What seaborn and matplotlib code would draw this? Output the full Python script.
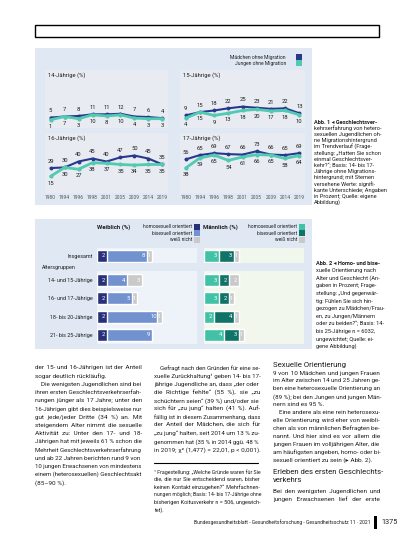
"""Trend lines (Geschlechtsverkehrerfahrung) and orientation bars, laid out as a journal page."""

import matplotlib

matplotlib.use("Agg")
import matplotlib.pyplot as plt
import numpy as np
import seaborn as sns
from matplotlib.patches import Rectangle

W, H = 413, 550

YEARS = ["1980", "1994", "1996", "1998", "2001", "2005", "2009", "2014", "2019"]
GIRLS_14 = [5, 7, 8, 11, 11, 12, 7, 6, 4]
BOYS_14 = [1, 7, 3, 10, 8, 10, 4, 3, 3]
GIRLS_15 = [9, 15, 18, 22, 25, 23, 21, 22, 13]
BOYS_15 = [4, 15, 9, 13, 18, 20, 17, 18, 10]
GIRLS_16 = [29, 30, 40, 45, 40, 47, 50, 45, 35]
BOYS_16 = [15, 30, 27, 38, 37, 35, 34, 35, 35]
GIRLS_17 = [56, 65, 69, 67, 66, 73, 66, 65, 69]
BOYS_17 = [38, 59, 65, 54, 61, 66, 65, 58, 64]
LINE_LEGEND = ["Mädchen ohne Migration", "Jungen ohne Migration"]

TOTAL_LABEL = ["Insgesamt"]
AGE_LABELS = ["14- und 15-Jährige", "16- und 17-Jährige", "18- bis 20-Jährige", "21- bis 25-Jährige"]
SEG_NAMES = ["homosexuell orientiert", "bisexuell orientiert", "weiß nicht"]
F_TOTAL = [[2], [8], [1]]
F_AGE = [[2, 2, 2, 2], [4, 5, 10, 9], [3, 1, 1, 0]]
M_TOTAL = [[3], [3], [1]]
M_AGE = [[3, 3, 2, 4], [2, 2, 4, 3], [2, 1, 1, 1]]

NAVY = "#27398c"
TEAL = "#52c9b1"
F_COLORS = ["#28307a", "#7191cf", "#c9c9c9"]
M_COLORS = ["#41c1a6", "#0f7368", "#c9c9c9"]
PANEL = "#dfe8f3"
INNER = "#e8ecf2"
TXT = "#1e1e1e"

CAPTION_1 = [
    "kehrserfahrung von hetero-",
    "sexuellen Jugendlichen oh-",
    "ne Migrationshintergrund",
    "im Trendverlauf (Frage-",
    "stellung: „Hatten Sie schon",
    "einmal Geschlechtsver-",
    "kehr?“; Basis: 14- bis 17-",
    "Jährige ohne Migrations-",
    "hintergrund; mit Sternen",
    "versehene Werte: signifi-",
    "kante Unterschiede; Angaben",
    "in Prozent; Quelle: eigene",
    "Abbildung)",
]
CAPTION_2 = [
    "xuelle Orientierung nach",
    "Alter und Geschlecht (An-",
    "gaben in Prozent; Frage-",
    "stellung: „Und gegenwär-",
    "tig: Fühlen Sie sich hin-",
    "gezogen zu Mädchen/Frau-",
    "en, zu Jungen/Männern",
    "oder zu beiden?“; Basis: 14-",
    "bis 25-Jährige n = 6032,",
    "ungewichtet; Quelle: ei-",
    "gene Abbildung)",
]
COL_1 = [
    "der 15- und 16-Jährigen ist der Anteil",
    "sogar deutlich rückläufig.",
    "  Die wenigsten Jugendlichen sind bei",
    "ihren ersten Geschlechtsverkehrserfah-",
    "rungen jünger als 17 Jahre; unter den",
    "16-Jährigen gibt dies beispielsweise nur",
    "gut jede/jeder Dritte (34 %) an. Mit",
    "steigendem Alter nimmt die sexuelle",
    "Aktivität zu: Unter den 17- und 18-",
    "Jährigen hat mit jeweils 61 % schon die",
    "Mehrheit Geschlechtsverkehrserfahrung",
    "und ab 22 Jahren berichten rund 9 von",
    "10 jungen Erwachsenen von mindestens",
    "einem (heterosexuellen) Geschlechtsakt",
    "(85–90 %).",
]
COL_2 = [
    "  Gefragt nach den Gründen für eine se-",
    "xuelle Zurückhaltung¹ geben 14- bis 17-",
    "jährige Jugendliche an, dass „der oder",
    "die Richtige fehlte“ (55 %), sie „zu",
    "schüchtern seien“ (39 %) und/oder sie",
    "sich für „zu jung“ halten (41 %). Auf-",
    "fällig ist in diesem Zusammenhang, dass",
    "der Anteil der Mädchen, die sich für",
    "„zu jung“ halten, seit 2014 um 13 % zu-",
    "genommen hat (35 % in 2014 ggü. 48 %",
    "in 2019; χ² (1,477) = 22,01, p < 0,001).",
]
FOOTNOTE = [
    "¹ Fragestellung: „Welche Gründe waren für Sie",
    "die, die nur Sie entscheidend waren, bisher",
    "keinen Kontakt einzugehen?“ Mehrfachnen-",
    "nungen möglich; Basis: 14- bis 17-Jährige ohne",
    "bisherigen Koitusverkehr n = 506, ungewich-",
    "tet).",
]
COL_3A = [
    "9 von 10 Mädchen und jungen Frauen",
    "im Alter zwischen 14 und 25 Jahren ge-",
    "ben eine heterosexuelle Orientierung an",
    "(89 %); bei den Jungen und jungen Män-",
    "nern sind es 95 %.",
    "  Eine andere als eine rein heterosexu-",
    "elle Orientierung wird eher von weibli-",
    "chen als von männlichen Befragten be-",
    "nannt. Und hier sind es vor allem die",
    "jungen Frauen im volljährigen Alter, die",
    "am häufigsten angeben, homo- oder bi-",
    "sexuell orientiert zu sein (▸ Abb. 2).",
]
COL_3B = [
    "Bei den wenigsten Jugendlichen und",
    "jungen Erwachsenen lief der erste",
]
FOOTER = "Bundesgesundheitsblatt - Gesundheitsforschung - Gesundheitsschutz 11 · 2021"

sns.set_theme(style="white")
plt.rcParams["font.family"] = ["Roboto", "DejaVu Sans"]

fig = plt.figure(figsize=(W / 100, H / 100), dpi=100)
fig.patch.set_facecolor("white")
renderer = fig.canvas.get_renderer()


def px_axes(x0, y0, x1, y1):
    return fig.add_axes([x0 / W, 1 - y1 / H, (x1 - x0) / W, (y1 - y0) / H])


def put(x, y, s, **kw):
    kw.setdefault("va", "center")
    kw.setdefault("fontsize", 4.0)
    kw.setdefault("color", TXT)
    return fig.text(x / W, 1 - y / H, s, **kw)


def rect(x0, y0, x1, y1, **kw):
    fig.add_artist(Rectangle((x0 / W, 1 - y1 / H), (x1 - x0) / W, (y1 - y0) / H,
                             transform=fig.transFigure, **kw))


def block(x, y, lines, step, **kw):
    for i, line in enumerate(lines):
        put(x, y + i * step, line, **kw)


def text_width(s, size):
    t = put(0, 0, s, fontsize=size)
    w = t.get_window_extent(renderer).width
    t.remove()
    return w


def justified(x, y, lines, step, width, ragged=(), size=4.6):
    """One text per line; word gaps widened with hair spaces to fill the column."""
    hair = text_width("x" + "\u200a" * 10 + "x", size) - text_width("xx", size)
    hair /= 10
    for i, line in enumerate(lines):
        indent = 6 if line.startswith(" ") else 0
        words = line.split()
        room = width - indent
        fs = size
        natural = text_width(" ".join(words), fs)
        if natural > room:
            fs = size * room / natural
            natural = room
        s = " ".join(words)
        if i not in ragged and len(words) > 1 and hair > 0:
            per_gap = (room - natural) / (len(words) - 1) / (hair * fs / size)
            parts, carry = [words[0]], 0.0
            for w in words[1:]:
                carry += per_gap
                n = int(round(carry))
                carry -= n
                parts.append(" " + "\u200a" * n + w)
            s = "".join(parts)
        put(x + indent, y + i * step, s, fontsize=fs)


# header frame and panel backgrounds
rect(35, 25, 379, 37, fill=False, edgecolor="black", linewidth=1.0)
rect(35, 48, 312, 205, facecolor=PANEL, edgecolor="none", zorder=-5)
rect(35, 219, 312, 349, facecolor=PANEL, edgecolor="none", zorder=-5)

# --- Abb. 1: four trend panels
line_panels = [
    ("14-Jährige (%)", GIRLS_14, BOYS_14, (45, 70, 168, 128), False, (-14, 92)),
    ("15-Jährige (%)", GIRLS_15, BOYS_15, (180, 70, 305, 128), False, (-14, 92)),
    ("16-Jährige (%)", GIRLS_16, BOYS_16, (45, 133, 168, 193), True, (-13, 88)),
    ("17-Jährige (%)", GIRLS_17, BOYS_17, (180, 133, 305, 193), True, (-14, 111)),
]
xs = np.arange(len(YEARS))
for title, girls, boys, box, show_x, ylim in line_panels:
    ax = px_axes(*box)
    ax.set_facecolor(INNER)
    sns.lineplot(x=xs, y=girls, ax=ax, color=NAVY, linewidth=1.5, marker="o",
                 markersize=2.8, markeredgewidth=0)
    sns.lineplot(x=xs, y=boys, ax=ax, color=TEAL, linewidth=2.0, marker="o",
                 markersize=3.0, markeredgewidth=0)
    for xi, g, b in zip(xs, girls, boys):
        ax.annotate(str(g), (xi, g), xytext=(0, 3), textcoords="offset points",
                    ha="center", va="bottom", fontsize=4.2, color=TXT)
        ax.annotate(str(b), (xi, b), xytext=(0, -3), textcoords="offset points",
                    ha="center", va="top", fontsize=4.2, color=TXT)
    ax.set_xlim(-0.4, len(YEARS) - 0.6)
    ax.set_ylim(*ylim)
    ax.set_yticks([])
    ax.set_xticks(xs, YEARS if show_x else [""] * len(YEARS))
    ax.tick_params(axis="x", length=0, labelsize=3.5, pad=1.5, labelcolor="#555555")
    for side in ax.spines.values():
        side.set_visible(False)
    ax.text(0.025, 0.91, title, transform=ax.transAxes, va="center", ha="left",
            fontsize=4.2, color=TXT)

for i, (name, color) in enumerate(zip(LINE_LEGEND, [NAVY, TEAL])):
    put(286, 57 + i * 6.5, name, ha="right", fontsize=3.6)
    rect(296, 54 + i * 6.5, 302, 60 + i * 6.5, facecolor=color, edgecolor="none")


# --- Abb. 2: stacked orientation bars
def stacked(ax, labels, segments, colors, width, bg):
    ax.set_facecolor(bg)
    cum = np.cumsum(np.array(segments, dtype=float), axis=0)
    for k in reversed(range(len(segments))):
        sns.barplot(x=cum[k], y=labels, color=colors[k], width=width, ax=ax,
                    saturation=1, errorbar=None)
    for k, seg in enumerate(segments):
        for j, v in enumerate(seg):
            if v <= 0:
                continue
            ax.text(cum[k][j] - min(0.7, v / 2), j, str(v), ha="center", va="center",
                    fontsize=4.2, color="white")
    ax.set(xlabel="", ylabel="")
    ax.set_xlim(0, 20)
    ax.set_xticks([])
    for side in ax.spines.values():
        side.set_visible(False)
    ax.tick_params(axis="y", length=0, pad=3, labelsize=3.9, labelcolor=TXT)


bar_sets = [
    (97, F_TOTAL, F_AGE, F_COLORS, "#eef2f9", True),
    (204, M_TOTAL, M_AGE, M_COLORS, "#f2f7ee", False),
]
for x0, total, age, colors, bg, show_labels in bar_sets:
    ax_t = px_axes(x0, 248, x0 + 100, 263)
    stacked(ax_t, TOTAL_LABEL, total, colors, 0.8, bg)
    ax_a = px_axes(x0, 271, x0 + 100, 344)
    stacked(ax_a, AGE_LABELS, age, colors, 0.66, bg)
    if not show_labels:
        ax_t.set_yticklabels([])
        ax_a.set_yticklabels([])

put(42, 267, "Altersgruppen", fontsize=3.9)
put(97, 227, "Weiblich (%)", fontsize=4.3, fontweight="bold")
put(203, 227, "Männlich (%)", fontsize=4.3, fontweight="bold")
for legend_x, colors in [(192, F_COLORS), (297, M_COLORS)]:
    for i, (name, color) in enumerate(zip(SEG_NAMES, colors)):
        y = 227 + i * 6.5
        put(legend_x, y, name, ha="right", fontsize=3.5)
        rect(legend_x + 1.5, y - 3, legend_x + 7.5, y + 3, facecolor=color, edgecolor="none")

# --- captions
put(314, 122, "Abb. 1 ◂ Geschlechtsver-", fontweight="bold", fontsize=4.1)
block(314, 128.2, CAPTION_1, 6.2, fontsize=4.1)
put(316, 263, "Abb. 2 ◂ Homo- und bise-", fontweight="bold", fontsize=4.1)
block(316, 270.6, CAPTION_2, 7.6, fontsize=4.1)

# --- body text in three justified columns
justified(35, 368, COL_1, 8.2, 107, ragged={1, 14})
justified(154, 368, COL_2, 8.2, 106, ragged={10})
fig.add_artist(plt.Line2D([154 / W, 258 / W], [1 - 463 / H, 1 - 463 / H],
                          transform=fig.transFigure, color="black", linewidth=0.8))
justified(154, 472, FOOTNOTE, 7.6, 106, ragged={5}, size=4.0)
put(273, 365, "Sexuelle Orientierung", fontsize=5.6)
justified(273, 373, COL_3A, 7.9, 107, ragged={4, 11})
put(273, 472, "Erleben des ersten Geschlechts-", fontsize=5.6)
put(273, 480, "verkehrs", fontsize=5.6)
justified(273, 491, COL_3B, 8.2, 107)

put(370, 522, FOOTER, ha="right", fontsize=3.6)
rect(374, 516, 377, 529, facecolor="black", edgecolor="none")
put(381, 522, "1375", fontsize=5.2)

fig.savefig("out.png", dpi=100)
